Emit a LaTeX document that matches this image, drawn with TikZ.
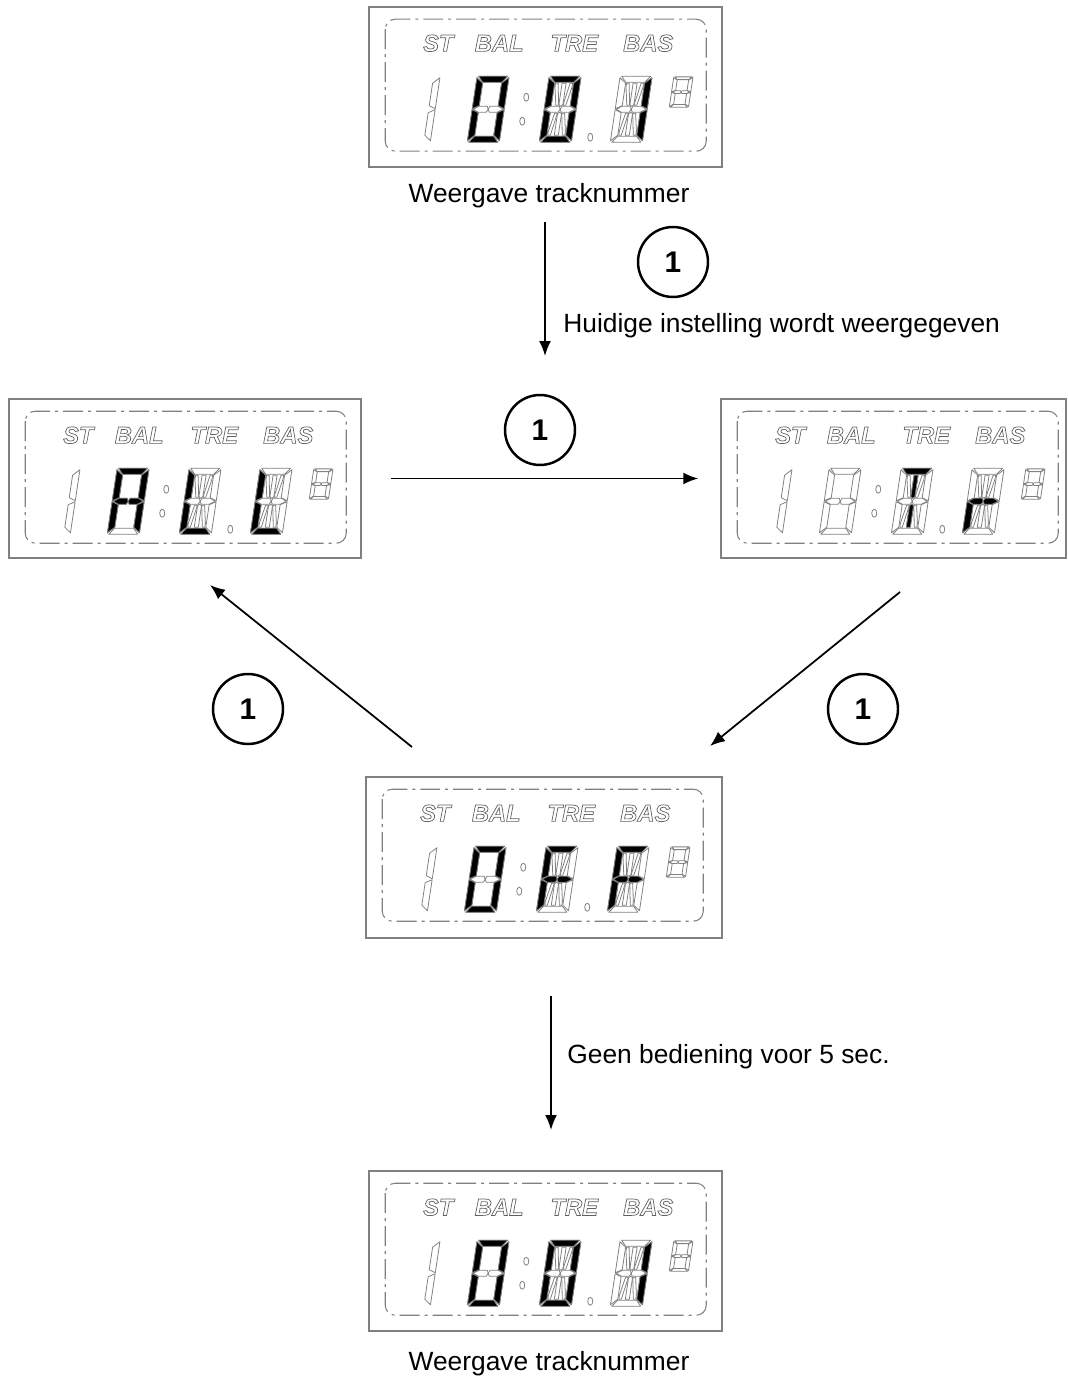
\documentclass[tikz,border=0pt]{standalone}
\usepackage{fontspec}
\setmainfont{Liberation Sans}
\usetikzlibrary{arrows.meta}
\definecolor{lcdgray}{RGB}{128,128,128}

% segment outlines of one LCD digit, y up, box 32 x 66
\newcommand{\defseg}[2]{\expandafter\def\csname lcdseg#1\endcsname{#2}}
\defseg{a}{(1.5,66) -- (30.5,66) -- (25.5,60) -- (6.5,60) -- cycle}
\defseg{b}{(32,64.5) -- (32,33.5) -- (25.5,36.5) -- (25.5,59) -- cycle}
\defseg{c}{(32,32.5) -- (32,1.5) -- (25.5,7) -- (25.5,29.5) -- cycle}
\defseg{d}{(1.5,0) -- (30.5,0) -- (25.5,6) -- (6.5,6) -- cycle}
\defseg{e}{(0,32.5) -- (6.5,29.5) -- (6.5,7) -- (0,1.5) -- cycle}
\defseg{f}{(0,64.5) -- (6.5,59) -- (6.5,36.5) -- (0,33.5) -- cycle}
\defseg{g1}{(1,33) -- (6.5,36) -- (14.5,36) -- (16,33) -- (14.5,30) -- (6.5,30) -- cycle}
\defseg{g2}{(16,33) -- (17.5,36) -- (25.5,36) -- (31,33) -- (25.5,30) -- (17.5,30) -- cycle}
\defseg{h}{(7.5,59) -- (10,59) -- (13.5,39) -- (13.5,37) -- (11,37) -- (7.5,55) -- cycle}
\defseg{i}{(14,59) -- (18,59) -- (18,37.5) -- (16,36) -- (14,37.5) -- cycle}
\defseg{j}{(24.5,59) -- (22,59) -- (18.5,39) -- (18.5,37) -- (21,37) -- (24.5,55) -- cycle}
\defseg{k}{(7.5,7) -- (10,7) -- (13.5,27) -- (13.5,29) -- (11,29) -- (7.5,11) -- cycle}
\defseg{l}{(14,7) -- (18,7) -- (18,28.5) -- (16,30) -- (14,28.5) -- cycle}
\defseg{m}{(24.5,7) -- (22,7) -- (18.5,27) -- (18.5,29) -- (21,29) -- (24.5,11) -- cycle}

\newcommand{\outlined}[1]{\special{pdf:literal direct 1 Tr}#1\special{pdf:literal direct 0 Tr}}

% [size]{bottom left}{segments shown}{segments lit}
\newcommand{\lcddigit}[4][scale=1]{%
  \begin{scope}[shift={#2}, yscale=-1, xslant=-0.15, #1]
    \foreach \s in {#3} {\expandafter\let\expandafter\segpath\csname lcdseg\s\endcsname
      \draw[segoff] \segpath;}
    \foreach \s in {#4} {\ifx\s\empty\else\expandafter\let\expandafter\segpath\csname lcdseg\s\endcsname
      \filldraw[segon] \segpath;\fi}
  \end{scope}}

% {panel node}{lit digit 1}{lit digit 2}{lit digit 3}
\newcommand{\lcdpanel}[4]{%
  \begin{scope}[shift={(#1.north west)}]
    \draw[lcdframe] (17,13) rectangle (338,145);
    \foreach \lbl/\xpos in {ST/70,BAL/131,TRE/206,BAS/280}
      \node[lcdlabel] (#1-\lbl) at (\xpos,37) {\outlined{\lbl}};
    \lcddigit{(30,136)}{b,c}{}
    \lcddigit{(99,136)}{a,b,c,d,e,f,g1,g2}{#2}
    \lcddigit{(171,136)}{a,b,c,d,e,f,g1,g2,h,i,j,k,l,m}{#3}
    \lcddigit{(242,136)}{a,b,c,d,e,f,g1,g2,h,i,j,k,l,m}{#4}
    \lcddigit[xscale=0.6, yscale=0.46]{(301,101)}{a,b,c,d,e,f,g1,g2}{}
    \draw[segoff] (158,91) ellipse [x radius=2.5, y radius=4]
      (154,115) ellipse [x radius=2.5, y radius=4]
      (222,131) ellipse [x radius=2.5, y radius=4];
  \end{scope}}

\begin{document}
\begin{tikzpicture}[x=0.02cm, y=-0.02cm,
  panel/.style={draw=lcdgray, line width=0.9pt, inner sep=0pt},
  lcdframe/.style={draw=lcdgray, line width=0.6pt, rounded corners=0.2cm,
    dash pattern=on 0.4cm off 0.1cm on 0.06cm off 0.1cm},
  segoff/.style={draw=lcdgray, line width=0.45pt, line join=round},
  segon/.style={segoff, fill=black},
  lcdlabel/.style={inner sep=0pt, text=lcdgray!75!black, font=\fontsize{13.5}{14}\selectfont\bfseries\itshape},
  flow/.style={-{Latex[length=0.3cm, width=0.24cm]}, line width=1pt},
  btn/.style={circle, draw, line width=1.4pt, minimum size=1.4cm, inner sep=0pt,
    font=\fontsize{17}{17}\selectfont\bfseries},
  caption/.style={inner sep=0pt, font=\fontsize{15}{18}\selectfont}]
\useasboundingbox (0,0) rectangle (1067,1381);

\node[panel, minimum width=7.06cm, minimum height=3.2cm] (p1) at (545.5,87) {};
\node[panel, minimum width=7.04cm, minimum height=3.18cm] (p2) at (185,478.5) {};
\node[panel, minimum width=6.9cm, minimum height=3.18cm] (p3) at (893.5,478.5) {};
\node[panel, minimum width=7.12cm, minimum height=3.22cm] (p4) at (544,857.5) {};
\node[panel, minimum width=7.06cm, minimum height=3.2cm] (p5) at (545.5,1251) {};

\lcdpanel{p1}{a,b,c,d,e,f}{a,b,c,d,e,f}{b,c}
\lcdpanel{p2}{a,b,c,e,f,g1,g2}{d,e,f}{d,e,f}
\lcdpanel{p3}{}{a,i,l}{e,g1,g2}
\lcdpanel{p4}{a,b,c,d,e,f}{a,e,f,g1,g2}{a,e,f,g1,g2}
\lcdpanel{p5}{a,b,c,d,e,f}{a,b,c,d,e,f}{b,c}

\node[caption] (lbl1) at (549,196) {Weergave tracknummer};
\node[caption] (lbl5) at (549,1364) {Weergave tracknummer};

\node[btn] (k1) at (673,262) {1};
\node[btn] (k2) at (540,430) {1};
\node[btn] (k3) at (248,709) {1};
\node[btn] (k4) at (863,709) {1};

\coordinate (a1s) at (545,222);
\coordinate (a1e) at (545,356);
\coordinate (a3s) at (900,592);
\coordinate (a3e) at (710,746);
\coordinate (a4s) at (412,747);
\coordinate (a4e) at (210,585);
\coordinate (a5s) at (551,996);
\coordinate (a5e) at (551,1130);

\draw[flow] (a1s) -- (a1e);
\draw[flow, shorten <=0.58cm, shorten >=0.44cm] (p2.east) -- (p3.west);
\draw[flow] (a3s) -- (a3e);
\draw[flow] (a4s) -- (a4e);
\draw[flow] (a5s) -- (a5e);

\node[caption, anchor=west] (t1) at (563,326) {Huidige instelling wordt weergegeven};
\node[caption, anchor=west] (t2) at (567,1057) {Geen bediening voor 5 sec.};
\end{tikzpicture}
\end{document}
